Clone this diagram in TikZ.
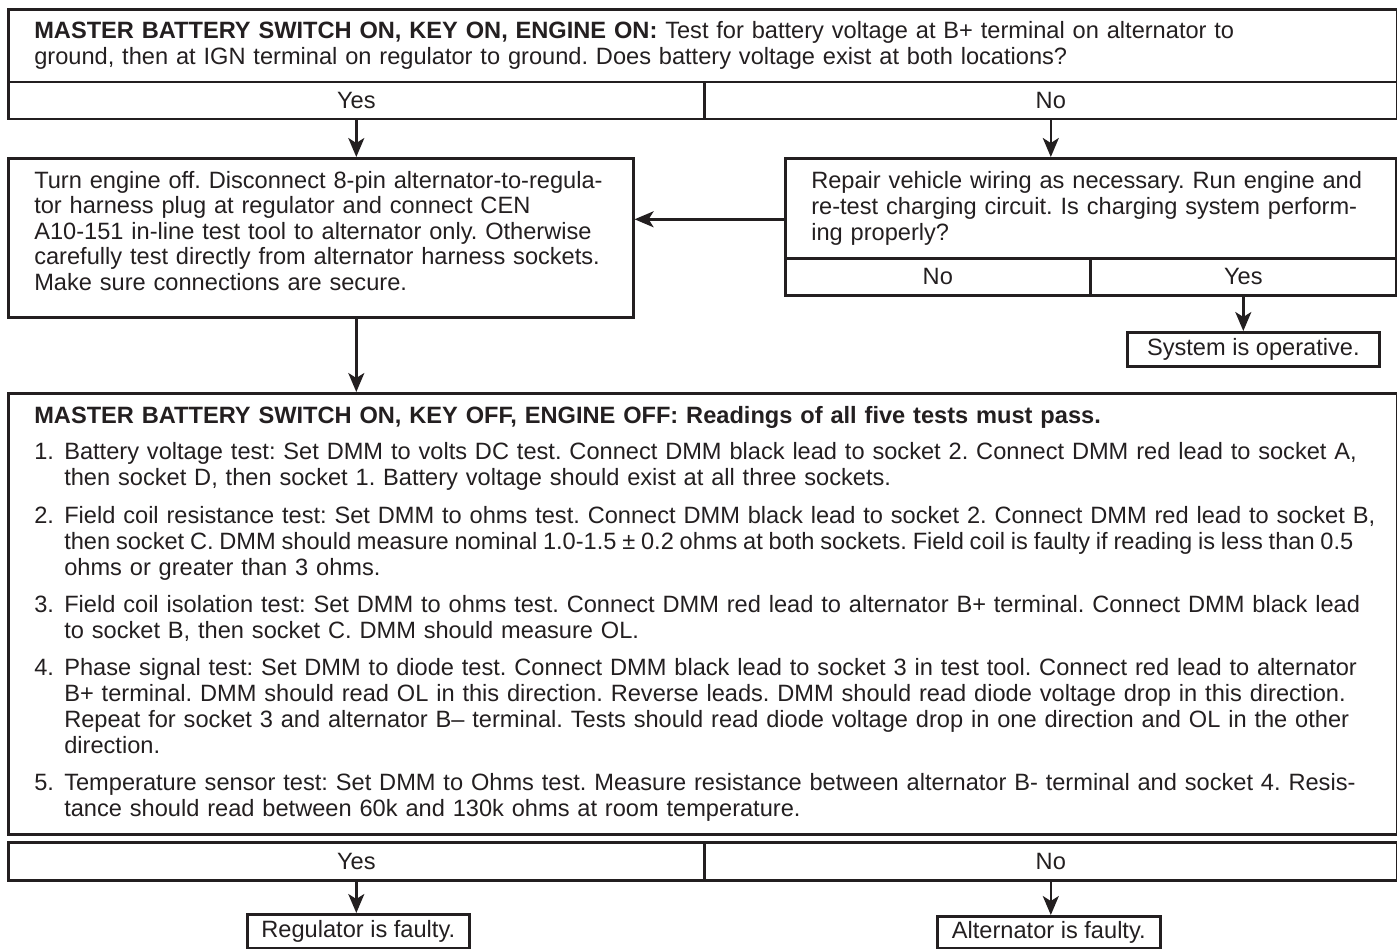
\documentclass[tikz,border=0pt]{standalone}
\usepackage{fontspec}
\setmainfont{Liberation Sans}
\usetikzlibrary{arrows.meta}
\definecolor{ink}{HTML}{231F20}
\newcommand{\itm}[2]{\mbox{\makebox[30bp][l]{#1}#2}}
\newcommand{\cnt}[1]{\mbox{\hspace*{30bp}#1}}
\newcommand{\bodyfont}{\fontsize{23.7}{26}\selectfont\frenchspacing}
\newcommand{\actfont}{\fontsize{23.7}{25.5}\selectfont\frenchspacing}
\begin{document}
\begin{tikzpicture}[x=1bp,y=-1bp,
  every node/.style={text=ink},
  box/.style={draw=ink, line width=2.6bp, rectangle, inner sep=0pt, anchor=north west},
  txtbox/.style={box, inner xsep=26bp, align=left, font=\bodyfont},
  lbl/.style={box, font=\bodyfont},
  arr/.style={draw=ink, line width=2.4bp, -{Stealth[length=19bp,width=16bp,inset=5bp]}}
]
\useasboundingbox (0,0) rectangle (1397,948);

% top question
\node[txtbox, minimum width=1389bp, minimum height=72.5bp, text width=1337bp] (q1) at (7,8)
 {\mbox{\textbf{MASTER BATTERY SWITCH ON, KEY ON, ENGINE ON:} Test for battery voltage at B+ terminal on alternator to}\\
  \mbox{ground, then at IGN terminal on regulator to ground. Does battery voltage exist at both locations?}};
\node[lbl, minimum width=696bp, minimum height=37bp] (q1yes) at (7,80.5) {Yes};
\node[lbl, minimum width=693bp, minimum height=37bp] (q1no) at (703,80.5) {No};

% left action
\node[txtbox, font=\actfont, minimum width=625bp, minimum height=159bp, text width=573bp] (act) at (7,157)
 {\mbox{Turn engine off. Disconnect 8-pin alternator-to-regula-}\\
  \mbox{tor harness plug at regulator and connect CEN}\\
  \mbox{A10-151 in-line test tool to alternator only. Otherwise}\\
  \mbox{carefully test directly from alternator harness sockets.}\\
  \mbox{Make sure connections are secure.\rule[-14bp]{0pt}{14bp}}};

% right repair
\node[txtbox, minimum width=611bp, minimum height=100bp, text width=559bp] (rep) at (784,157)
 {\mbox{Repair vehicle wiring as necessary. Run engine and}\\
  \mbox{re-test charging circuit. Is charging system perform-}\\
  \mbox{ing properly?}};
\node[lbl, minimum width=305bp, minimum height=37bp] (rno) at (784,257) {No};
\node[lbl, minimum width=306bp, minimum height=37bp] (ryes) at (1089,257) {Yes};
\node[lbl, minimum width=252bp, minimum height=34bp] (sys) at (1126,331) {System is operative.};

% big test box
\node[txtbox, minimum width=1389bp, minimum height=441bp, text width=1337bp] (big) at (7,392)
 {\mbox{\textbf{MASTER BATTERY SWITCH ON, KEY OFF, ENGINE OFF: Readings of all five tests must pass.}}\\[11bp]
  \itm{1.}{Battery voltage test: Set DMM to volts DC test. Connect DMM black lead to socket 2. Connect DMM red lead to socket A,}\\
  \cnt{then socket D, then socket 1. Battery voltage should exist at all three sockets.}\\[11.5bp]
  \itm{2.}{Field coil resistance test: Set DMM to ohms test. Connect DMM black lead to socket 2. Connect DMM red lead to socket B,}\\
  \cnt{\spaceskip=0.245em\relax then socket C. DMM should measure nominal 1.0-1.5 ± 0.2 ohms at both sockets. Field coil is faulty if reading is less than 0.5}\\
  \cnt{ohms or greater than 3 ohms.}\\[11.5bp]
  \itm{3.}{Field coil isolation test: Set DMM to ohms test. Connect DMM red lead to alternator B+ terminal. Connect DMM black lead}\\
  \cnt{to socket B, then socket C. DMM should measure OL.}\\[11.5bp]
  \itm{4.}{Phase signal test: Set DMM to diode test. Connect DMM black lead to socket 3 in test tool. Connect red lead to alternator}\\
  \cnt{B+ terminal. DMM should read OL in this direction. Reverse leads. DMM should read diode voltage drop in this direction.}\\
  \cnt{Repeat for socket 3 and alternator B– terminal. Tests should read diode voltage drop in one direction and OL in the other}\\
  \cnt{direction.}\\[11.5bp]
  \itm{5.}{Temperature sensor test: Set DMM to Ohms test. Measure resistance between alternator B- terminal and socket 4. Resis-}\\
  \cnt{tance should read between 60k and 130k ohms at room temperature.}};
\node[lbl, minimum width=696bp, minimum height=38bp] (byes) at (7,841) {Yes};
\node[lbl, minimum width=693bp, minimum height=38bp] (bno) at (703,841) {No};
\node[lbl, minimum width=222bp, minimum height=34bp] (reg) at (246,913) {Regulator is faulty.};
\node[lbl, minimum width=223bp, minimum height=32bp] (alt) at (936,915) {Alternator is faulty.};

% connectors
\draw[arr] (q1yes.south) -- (q1yes.south |- act.north);
\draw[arr] (q1no.south) -- (q1no.south |- rep.north);
\path ([yshift=-11bp]rep.west) coordinate (rw);
\draw[arr] (rw) -- (rw -| act.east);
\draw[arr] (ryes.south) -- (ryes.south |- sys.north);
\draw[arr] (act.south -| q1yes.south) -- (big.north -| q1yes.south);
\draw[arr] (byes.south) -- (byes.south |- reg.north);
\draw[arr] (bno.south) -- (bno.south |- alt.north);
\end{tikzpicture}
\end{document}
